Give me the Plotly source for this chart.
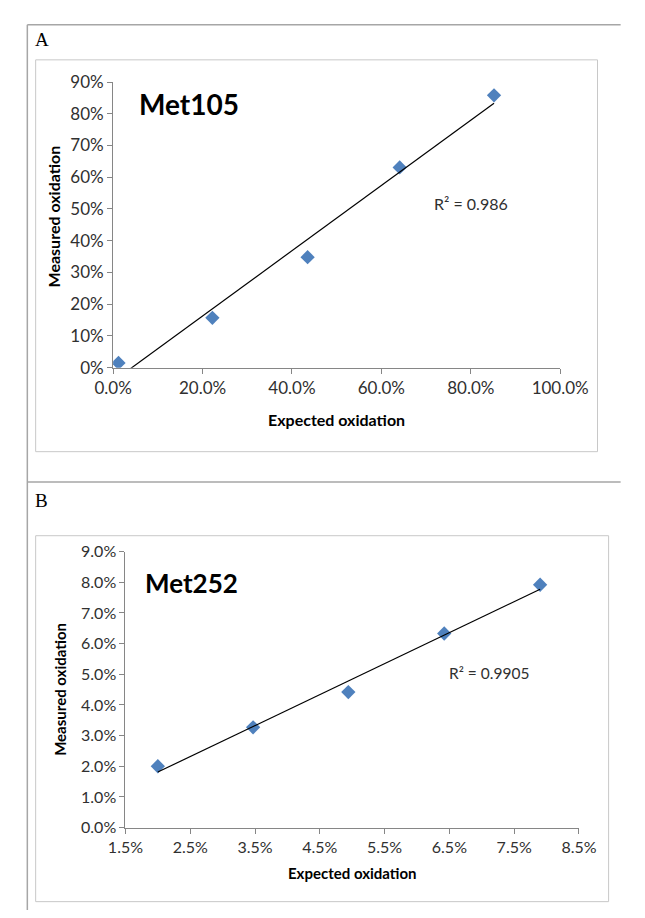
import numpy as np
import plotly.graph_objects as go

W, H = 645, 918

# ---------------- data ----------------
a_expected = [0.012, 0.222, 0.435, 0.641, 0.852]
a_measured = [0.015, 0.157, 0.348, 0.631, 0.858]
a_title = "Met105"
a_r2 = "R² = 0.986"
a_xticks = [0.0, 0.2, 0.4, 0.6, 0.8, 1.0]
a_yticks = [0.0, 0.1, 0.2, 0.3, 0.4, 0.5, 0.6, 0.7, 0.8, 0.9]

b_expected = [0.0200, 0.0347, 0.0494, 0.0642, 0.0790]
b_measured = [0.0200, 0.0327, 0.0442, 0.0633, 0.0792]
b_title = "Met252"
b_r2 = "R² = 0.9905"
b_xticks = [0.015, 0.025, 0.035, 0.045, 0.055, 0.065, 0.075, 0.085]
b_yticks = [0.0, 0.01, 0.02, 0.03, 0.04, 0.05, 0.06, 0.07, 0.08, 0.09]

x_label = "Expected oxidation"
y_label = "Measured oxidation"

FONT = "Lato, 'Open Sans', sans-serif"
BLUE = "#4F81BD"
AXIS = "#868686"
TXT = "#303030"


def px(x):
    return x / W


def py(y):
    return 1 - y / H


fig = go.Figure()


def add_panel(idx, xs, ys, xticks, yticks, xfmt, yfmt, dom_x, dom_y, tickfs):
    xa = "x" if idx == 1 else "x2"
    ya = "y" if idx == 1 else "y2"
    fig.add_trace(go.Scatter(
        x=xs, y=ys, mode="markers", xaxis=xa, yaxis=ya,
        marker=dict(symbol="diamond", size=11, color=BLUE,
                    line=dict(width=0)),
        showlegend=False, hoverinfo="skip"))
    k, b = np.polyfit(xs, ys, 1)
    lx = [min(xs), max(xs)]
    ly = [k * v + b for v in lx]
    fig.add_trace(go.Scatter(
        x=lx, y=ly, mode="lines", xaxis=xa, yaxis=ya,
        line=dict(color="black", width=1.2),
        showlegend=False, hoverinfo="skip"))
    common = dict(showgrid=False, zeroline=False, showline=True,
                  linecolor=AXIS, linewidth=1, ticks="outside",
                  ticklen=5, tickcolor=AXIS, tickwidth=1,
                  tickfont=dict(family=FONT, size=tickfs, color=TXT))
    xkey = "xaxis" if idx == 1 else "xaxis2"
    ykey = "yaxis" if idx == 1 else "yaxis2"
    fig.update_layout(**{
        xkey: dict(domain=dom_x, range=[xticks[0], xticks[-1]],
                   tickvals=xticks, tickformat=xfmt,
                   anchor=ya, **common),
        ykey: dict(domain=dom_y, range=[yticks[0], yticks[-1]],
                   tickvals=yticks, tickformat=yfmt,
                   anchor=xa, **common),
    })


add_panel(1, a_expected, a_measured, a_xticks, a_yticks, ".1%", ".0%",
          [px(101.7), px(584.7)], [py(365), py(72.7)], 17)
add_panel(2, b_expected, b_measured, b_xticks, b_yticks, ".1%", ".1%",
          [px(115), px(605)], [py(835.7), py(553.3)], 16)

shapes = []
frame = dict(color="#a6a6a6", width=1.5)
box = dict(color="#c8c8c8", width=1)
shapes.append(dict(type="line", xref="paper", yref="paper",
                   x0=px(9), x1=px(650), y0=py(14), y1=py(14), line=frame))
shapes.append(dict(type="line", xref="paper", yref="paper",
                   x0=px(9), x1=px(9), y0=py(14), y1=py(920), line=frame))
shapes.append(dict(type="line", xref="paper", yref="paper",
                   x0=px(9), x1=px(650), y0=py(482), y1=py(482), line=frame))
shapes.append(dict(type="rect", xref="paper", yref="paper",
                   x0=px(18), x1=px(625), y0=py(50), y1=py(451), line=box))
shapes.append(dict(type="rect", xref="paper", yref="paper",
                   x0=px(18), x1=px(637), y0=py(537), y1=py(911.5), line=box))

ann = []


def text(x, y, s, size, bold=False, xanchor="center", angle=0,
         family=FONT, color=TXT):
    ann.append(dict(xref="paper", yref="paper", x=px(x), y=py(y),
                    text=("<b>%s</b>" % s) if bold else s,
                    showarrow=False, xanchor=xanchor, yanchor="middle",
                    textangle=angle,
                    font=dict(family=family, size=size, color=color)))


text(15, 29, "A", 19, xanchor="left", family="'Liberation Serif', serif",
     color="black")
text(15, 501, "B", 19, xanchor="left", family="'Liberation Serif', serif",
     color="black")

text(127, 95, a_title, 28, bold=True, xanchor="left", color="black")
text(134, 585, b_title, 26, bold=True, xanchor="left", color="black")

text(446, 197, a_r2, 16, xanchor="left")
text(462, 677, b_r2, 15.5, xanchor="left")

text(343, 418, x_label, 16, bold=True, color="black")
text(37, 210, y_label, 16, bold=True, angle=-90, color="black")
text(360, 882, x_label, 15, bold=True, color="black")
text(44, 694, y_label, 15, bold=True, angle=-90, color="black")

fig.update_layout(width=W, height=H, autosize=False,
                  margin=dict(l=0, r=0, t=0, b=0),
                  paper_bgcolor="white", plot_bgcolor="white",
                  shapes=shapes, annotations=ann)

fig.write_html(
    "out.html",
    config={"responsive": False, "displayModeBar": False},
    post_script="document.body.style.margin='0px';"
                "document.body.style.padding='0px';"
                "document.documentElement.style.overflow='hidden';"
                "document.body.style.overflow='hidden';",
)
